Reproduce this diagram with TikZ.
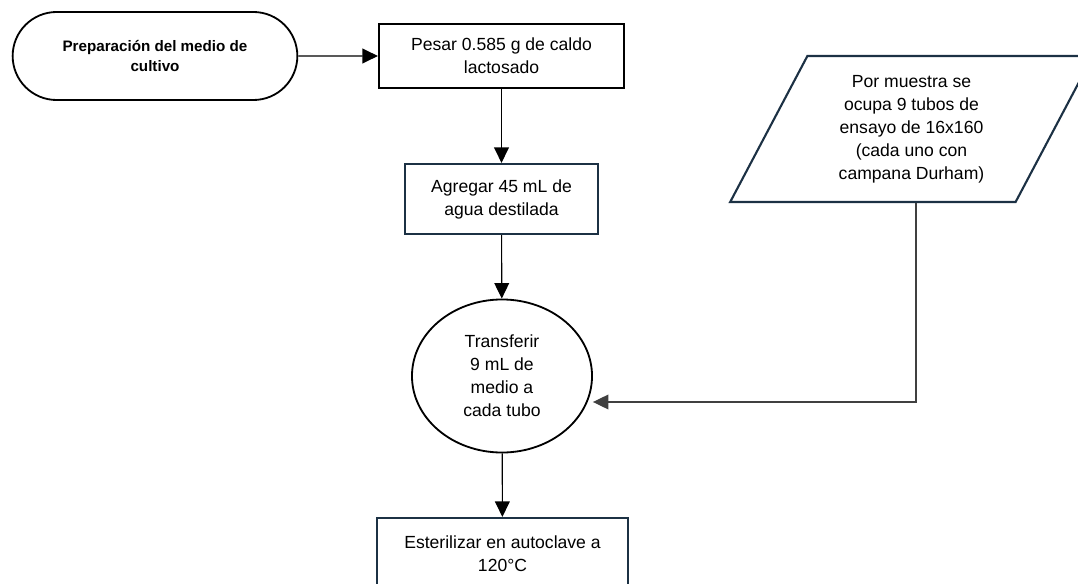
\documentclass[tikz,border=0pt]{standalone}
\usepackage{fontspec}
\setmainfont{Liberation Sans}
\usetikzlibrary{shapes.geometric}
\usetikzlibrary{shapes.misc}
\usetikzlibrary{arrows.meta}

\definecolor{boxnavy}{HTML}{1C3144}

\begin{document}
\begin{tikzpicture}[x=0.025cm, y=-0.025cm,
    flow/.style={align=center, font=\fontsize{12.5}{16.4}\selectfont, inner sep=0pt},
    box/.style={flow, draw, line width=1.5pt},
    conn/.style={-{Triangle[length=11pt,width=10.5pt]}, line width=0.8pt}]
        \useasboundingbox (0,0) rectangle (1078,584);
        \clip (0,0) rectangle (1078,584);
        \node (inicio) at (155,56) [rounded rectangle, draw, line width=1.3pt, minimum width=7.35cm, minimum height=2.2cm, align=center, font=\bfseries\fontsize{10.8}{14.2}\selectfont] {Preparación del medio de\\cultivo};
        \node (pesar) at (501.5,56) [box, minimum width=6.125cm, minimum height=1.6cm] {Pesar 0.585 g de caldo\\lactosado};
        \node (agua) at (501.5,199) [box, draw=boxnavy, minimum width=4.825cm, minimum height=1.75cm] {Agregar 45 mL de\\agua destilada};
        \node (transf) at (502,376) [flow, ellipse, draw, line width=1.3pt, minimum width=4.5cm, minimum height=3.825cm] {Transferir\\9 mL de\\medio a\\cada tubo};
        \node (ester) at (502.5,554) [box, draw=boxnavy, minimum width=6.275cm, minimum height=1.8cm] {Esterilizar en autoclave a\\120°C};
        \node (tubos) at (911.5,129) [flow, trapezium, trapezium left angle=63.43, trapezium right angle=116.57, trapezium stretches=true, draw=boxnavy, line width=1.5pt, minimum width=9.075cm, minimum height=3.65cm] {Por muestra se\\ocupa 9 tubos de\\ensayo de 16x160\\(cada uno con\\campana Durham)};
        \coordinate (codo) at (916,402);
        \draw [conn] (inicio) -- (pesar);
        \draw [conn] (pesar) -- (agua);
        \draw [conn] (agua) -- (transf);
        \draw [conn] (transf) -- (ester);
        \draw [conn, draw=black!75] (tubos.south -| codo) -- (codo) -- (codo -| transf.east);
    \end{tikzpicture}
\end{document}
